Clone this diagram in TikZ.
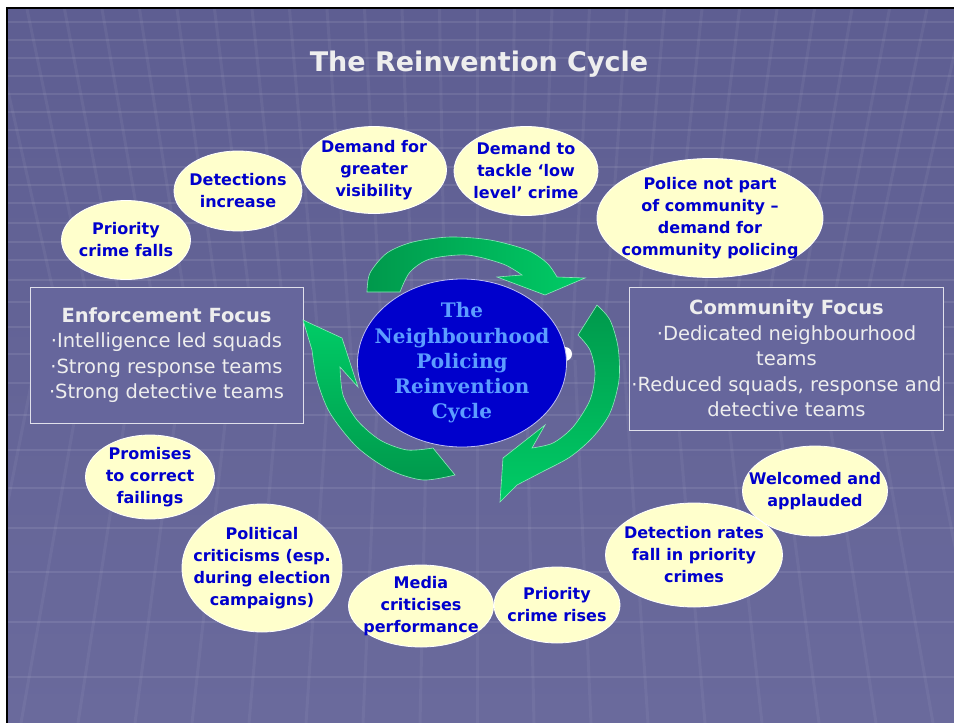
\documentclass[tikz,border=0pt]{standalone}
\usepackage{fontspec}
\setmainfont{DejaVu Sans}
\newfontfamily\centrefont{DejaVu Serif}
\usetikzlibrary{shapes.geometric}
\definecolor{slidetop}{HTML}{5E5E92}
\definecolor{slidemid}{HTML}{52527F}
\definecolor{slidebot}{HTML}{6A6A9C}
\definecolor{boxfill}{HTML}{66669C}
\definecolor{bubblefill}{HTML}{FFFFCC}
\definecolor{bubbletext}{HTML}{0000CC}
\definecolor{hubfill}{HTML}{0000CC}
\definecolor{hubtext}{HTML}{5C9DFF}
\definecolor{greendark}{HTML}{00994C}
\definecolor{greenlight}{HTML}{00CC66}
\definecolor{paletext}{HTML}{EEEEEE}
\tikzset{
  bubble/.style={
    draw=white, line width=0.8pt, fill=bubblefill, ellipse, inner sep=0pt
  },
  btext/.style={
    text=bubbletext, font=\bfseries\fontsize{16}{22}\selectfont, align=center, inner sep=0pt
  },
  focusbox/.style={
    draw=white!80!boxfill, line width=0.8pt, fill=boxfill, inner sep=2pt, align=center,
    text=paletext, font=\fontsize{19.5}{25.5}\selectfont
  },
  hub/.style={
    draw=white!75!hubfill, line width=0.8pt, fill=hubfill, ellipse, inner sep=0pt
  },
  hubtext/.style={
    text=hubtext, font=\centrefont\bfseries\fontsize{20}{25.2}\selectfont, align=center, inner sep=0pt
  },
  swoosh/.style={
    draw=white!55!greenlight, line width=0.6pt
  },
  gridline/.style={
    white, opacity=0.09, line width=2.5pt
  }
}

\begin{document}
\begin{tikzpicture}[x=1pt, y=-1pt]
 \useasboundingbox (0,0) rectangle (954,723);
 \fill[white] (0,0) rectangle (954,723);
 \shade[top color=slidetop, middle color=slidemid, bottom color=slidebot] (8,9) rectangle (954,723);

 \begin{scope}
  \clip (8,9) rectangle (954,723);
  \foreach \y in {22, 40, 58, 76, 94, 112, 130, 148, 167, 185, 203, 223, 242, 260, 280, 302, 327, 354, 383, 415, 450, 488, 528, 572, 622, 677} {
    \draw[gridline] (8,\y) -- (954,\y);
  }
  \foreach \k in {-13,...,13} {
    \draw[white, opacity=0.05, line width=3pt] ({477+37.5*\k},9) -- ({477+31.4*\k},360);
    \draw[white, opacity=0.05, line width=3pt] ({477+57*\k},723) -- ({477+49*\k},360);
  }
 \end{scope}
 \draw[black, line width=2pt] (7,723) -- (7,8) -- (954,8);

 \node[text=paletext, font=\bfseries\fontsize{27}{32}\selectfont] (title) at (479,64) {The Reinvention Cycle};

 \node[focusbox, minimum width=273pt, minimum height=136pt] (enforce) at (166.5,355)
   {{\bfseries Enforcement Focus}\\·Intelligence led squads\\·Strong response teams\\·Strong detective teams};
 \node[focusbox, minimum width=313pt, minimum height=143pt] (community) at (786.5,358.5)
   {{\bfseries Community Focus}\\·Dedicated neighbourhood\\teams\\·Reduced squads, response and\\detective teams};

 \shadedraw[swoosh, left color=greendark, right color=greenlight]
   plot[smooth] coordinates {(367,292) (370,273) (387,253) (413,242) (450,237) (490,240) (527,250) (547,263) (557,277)}
   -- (585,278) -- (545,295) -- (497,277)
   -- plot[smooth] coordinates {(522,275) (503,264) (467,255) (430,259) (410,272) (400,292)} -- cycle;
 \shadedraw[swoosh, top color=greendark, bottom color=greenlight]
   plot[smooth] coordinates {(597,305) (610,320) (618,347) (619,380) (610,413) (593,437) (570,457) (540,473) (517,485)}
   -- (500,502) -- (503,458) -- (545,425)
   -- plot[smooth] coordinates {(532,448) (553,443) (573,427) (590,400) (595,373) (590,350) (578,335)} -- cycle;
 \shadedraw[swoosh, top color=greenlight, bottom color=greendark]
   plot[smooth] coordinates {(455,475) (423,480) (390,470) (357,447) (330,413) (317,380) (312,350)}
   -- (303,320) -- (342,338) -- (358,387)
   -- plot[smooth] coordinates {(340,367) (343,395) (357,420) (380,440) (407,450) (433,448)} -- cycle;

 \fill[white] (565,354) circle (7);
 \node[hub, minimum width=209pt, minimum height=168pt,
   label={[hubtext]center:{The\\Neighbourhood\\Policing\\Reinvention\\Cycle}}] (hub) at (462,363) {};

 \node[bubble, minimum width=129pt, minimum height=79pt, label={[btext]center:{Priority\\crime falls}}] (pfalls) at (126,240) {};
 \node[bubble, minimum width=128pt, minimum height=80pt, label={[btext]center:{Detections\\increase}}] (dincrease) at (238,191) {};
 \node[bubble, minimum width=145pt, minimum height=87pt, label={[btext]center:{Demand for\\greater\\visibility}}] (visibility) at (374,170) {};
 \node[bubble, minimum width=144pt, minimum height=89pt, label={[btext]center:{Demand to\\tackle ‘low\\level’ crime}}] (lowlevel) at (526,171) {};
 \node[bubble, minimum width=226pt, minimum height=119pt, label={[btext]center:{Police not part\\of community –\\demand for\\community policing}}] (notpart) at (710,218) {};
 \node[bubble, minimum width=145pt, minimum height=90pt, label={[btext]center:{Welcomed and\\applauded}}] (welcomed) at (815,491) {};
 \node[bubble, minimum width=177pt, minimum height=104pt, label={[btext]center:{Detection rates\\fall in priority\\crimes}}] (dfall) at (694,555) {};
 \node[bubble, minimum width=126pt, minimum height=76pt, label={[btext]center:{Priority\\crime rises}}] (prises) at (557,605) {};
 \node[bubble, minimum width=145pt, minimum height=82pt, label={[btext]center:{Media\\criticises\\performance}}] (media) at (421,606) {};
 \node[bubble, minimum width=160pt, minimum height=128pt, label={[btext]center:{Political\\criticisms (esp.\\during election\\campaigns)}}] (political) at (262,568) {};
 \node[bubble, minimum width=129pt, minimum height=84pt, label={[btext]center:{Promises\\to correct\\failings}}] (promises) at (150,477) {};
\end{tikzpicture}
\end{document}
